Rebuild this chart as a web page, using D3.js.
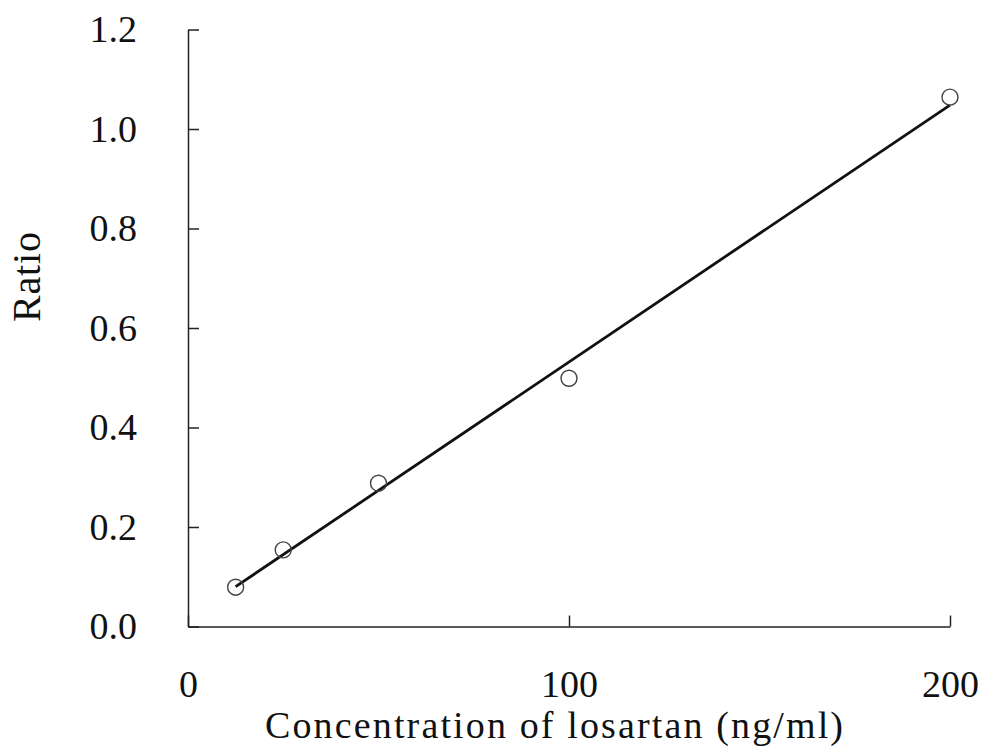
<!DOCTYPE html>
<html>
<head>
<meta charset="utf-8">
<script src="https://cdn.jsdelivr.net/npm/d3@7"></script>
<style>
  html, body { margin: 0; padding: 0; background: #fff; }
  svg { display: block; }
</style>
</head>
<body>
<script>
const concentrations = [12.5, 25, 50, 100, 200];
const ratios = [0.079, 0.154, 0.288, 0.499, 1.064];
const fitX = [12.5, 200];
const fitY = [0.080, 1.048];
const xTicks = [0, 100, 200];
const yTicks = [0.0, 0.2, 0.4, 0.6, 0.8, 1.0, 1.2];
const xTitle = "Concentration of losartan (ng/ml)";
const yTitle = "Ratio";

const W = 983, H = 752;
const FONT = "'Liberation Serif', 'DejaVu Serif', serif";
const svg = d3.select("body").append("svg").attr("width", W).attr("height", H);

const x = d3.scaleLinear().domain([0, 200]).range([188, 950]);
const y = d3.scaleLinear().domain([0, 1.2]).range([626.5, 29.5]);

const fs = 38;

const gx = svg.append("g").attr("transform", `translate(0,${y(0)})`)
  .call(d3.axisBottom(x).tickValues(xTicks).tickFormat(d3.format("d"))
    .tickSizeInner(-11).tickSizeOuter(0).tickPadding(44));
const gy = svg.append("g").attr("transform", `translate(${x(0)},0)`)
  .call(d3.axisLeft(y).tickValues(yTicks).tickFormat(d3.format(".1f"))
    .tickSizeInner(-11).tickSizeOuter(0).tickPadding(51));

[gx, gy].forEach(g => {
  g.select(".domain").attr("stroke", "#222").attr("stroke-width", 1.5);
  g.selectAll(".tick line").attr("stroke", "#222").attr("stroke-width", 1.5);
  g.selectAll(".tick text").attr("fill", "#111")
    .style("font-family", FONT).style("font-size", fs + "px");
});

// fitted line
const fit = fitX.map((d, i) => [d, fitY[i]]);
svg.append("path")
  .datum(fit)
  .attr("d", d3.line().x(d => x(d[0])).y(d => y(d[1])))
  .attr("fill", "none").attr("stroke", "#111").attr("stroke-width", 2.8);

// data points
svg.append("g").selectAll("circle")
  .data(concentrations.map((c, i) => [c, ratios[i]]))
  .join("circle")
  .attr("cx", d => x(d[0])).attr("cy", d => y(d[1]))
  .attr("r", 8)
  .attr("fill", "none").attr("stroke", "#444").attr("stroke-width", 1.4);

// titles
svg.append("text")
  .attr("x", 554).attr("y", 738)
  .attr("text-anchor", "middle")
  .attr("textLength", 578).attr("lengthAdjust", "spacing")
  .style("font-family", FONT).style("font-size", fs + "px").attr("fill", "#111")
  .text(xTitle);

svg.append("text")
  .attr("transform", "translate(40,277) rotate(-90)")
  .attr("text-anchor", "middle")
  .attr("textLength", 90).attr("lengthAdjust", "spacing")
  .style("font-family", FONT).style("font-size", "40px").attr("fill", "#111")
  .text(yTitle);
</script>
</body>
</html>
